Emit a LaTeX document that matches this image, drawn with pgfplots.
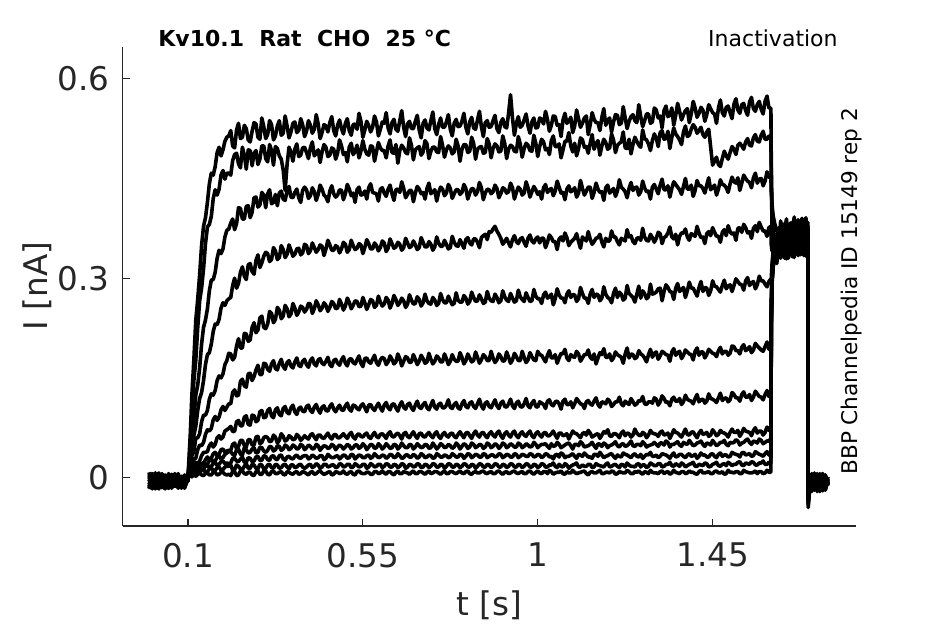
\documentclass[border=0pt]{standalone}
\usepackage{fontspec}
\setmainfont{DejaVu Sans}
\usepackage{pgfplots}
\usepackage{pgfplotstable}
\pgfplotsset{compat=1.18}
\definecolor{axgray}{HTML}{262626}
\pgfplotstableread{
t a b c d e f g h i j k l
0.000 0.004 -0.014 0.007 -0.016 -0.003 0.008 -0.010 -0.017 0.002 -0.006 -0.013 0.000
0.008 -0.015 0.005 -0.008 0.001 -0.017 -0.010 0.006 -0.004 -0.016 0.004 -0.002 -0.013
0.016 0.006 -0.009 -0.016 -0.003 0.007 -0.014 0.000 0.003 -0.010 -0.017 -0.004 0.007
0.025 -0.010 -0.017 -0.001 0.007 -0.013 0.000 -0.016 -0.008 0.005 -0.004 -0.013 -0.016
0.033 -0.003 0.001 -0.013 -0.015 0.004 -0.008 -0.003 0.006 -0.015 -0.001 0.005 -0.008
0.041 -0.016 -0.010 0.004 -0.001 -0.008 -0.017 -0.001 -0.013 0.000 -0.013 -0.008 -0.001
0.050 0.005 -0.003 -0.015 -0.010 -0.016 0.006 -0.013 -0.001 -0.008 0.004 -0.016 -0.010
0.058 -0.008 -0.016 -0.003 0.005 -0.001 -0.003 0.004 -0.015 -0.013 -0.010 0.001 -0.015
0.066 -0.013 0.004 -0.010 -0.013 -0.010 -0.013 -0.008 0.001 0.006 -0.003 -0.010 0.004
0.075 0.001 -0.013 -0.001 -0.008 0.006 -0.001 -0.015 -0.010 -0.003 -0.016 -0.001 -0.003
0.083 -0.010 -0.003 -0.016 0.002 -0.013 -0.010 0.001 -0.003 -0.015 0.001 -0.013 -0.013
0.091 -0.001 -0.015 0.001 -0.010 -0.003 0.001 -0.010 -0.016 -0.001 -0.008 0.004 -0.001
0.100 -0.004 -0.002 -0.004 -0.003 -0.005 -0.004 -0.003 -0.002 -0.004 -0.003 -0.004 -0.004
0.101 0.012 0.010 0.009 0.008 0.007 0.007 0.006 0.006 0.005 0.005 0.004 0.003
0.103 0.034 0.018 0.017 0.010 0.012 0.006 0.009 0.004 0.008 0.003 0.006 0.001
0.106 0.066 0.054 0.031 0.028 0.016 0.015 0.007 0.010 0.005 0.008 0.003 0.005
0.110 0.124 0.086 0.064 0.037 0.033 0.015 0.014 0.008 0.011 0.006 0.008 0.001
0.115 0.176 0.145 0.087 0.063 0.039 0.028 0.013 0.015 0.008 0.011 0.005 0.006
0.120 0.236 0.176 0.124 0.077 0.059 0.029 0.023 0.012 0.014 0.008 0.010 0.002
0.125 0.268 0.225 0.139 0.101 0.060 0.042 0.021 0.019 0.011 0.012 0.008 0.005
0.130 0.305 0.266 0.165 0.119 0.066 0.049 0.025 0.022 0.013 0.015 0.007 0.007
0.135 0.349 0.285 0.201 0.128 0.084 0.048 0.033 0.018 0.019 0.012 0.011 0.004
0.140 0.378 0.314 0.226 0.146 0.094 0.053 0.038 0.021 0.023 0.013 0.012 0.003
0.145 0.391 0.352 0.237 0.170 0.094 0.065 0.038 0.027 0.018 0.017 0.008 0.006
0.150 0.414 0.377 0.254 0.185 0.101 0.072 0.039 0.031 0.020 0.019 0.009 0.007
0.155 0.442 0.381 0.281 0.188 0.118 0.070 0.048 0.028 0.026 0.015 0.013 0.004
0.160 0.458 0.393 0.297 0.201 0.126 0.074 0.052 0.029 0.028 0.017 0.015 0.004
0.165 0.455 0.420 0.298 0.220 0.124 0.087 0.046 0.036 0.023 0.021 0.010 0.008
0.170 0.468 0.433 0.309 0.231 0.131 0.092 0.050 0.038 0.025 0.023 0.011 0.008
0.175 0.489 0.425 0.330 0.230 0.146 0.086 0.060 0.033 0.031 0.018 0.015 0.004
0.180 0.497 0.434 0.342 0.238 0.153 0.091 0.063 0.035 0.033 0.020 0.016 0.005
0.185 0.484 0.455 0.337 0.255 0.150 0.102 0.058 0.042 0.028 0.024 0.011 0.008
0.190 0.493 0.462 0.344 0.263 0.156 0.107 0.061 0.043 0.030 0.025 0.012 0.008
0.195 0.506 0.449 0.362 0.259 0.170 0.101 0.070 0.038 0.035 0.021 0.016 0.005
0.200 0.512 0.458 0.372 0.266 0.176 0.106 0.072 0.040 0.037 0.022 0.017 0.004
0.205 0.514 0.458 0.374 0.269 0.187 0.111 0.074 0.041 0.039 0.021 0.017 0.005
0.21 0.522 0.455 0.383 0.271 0.186 0.111 0.077 0.041 0.039 0.022 0.019 0.003
0.215 0.499 0.477 0.389 0.289 0.177 0.128 0.069 0.050 0.035 0.029 0.011 0.009
0.22 0.496 0.486 0.373 0.300 0.181 0.132 0.070 0.052 0.033 0.029 0.012 0.009
0.225 0.523 0.488 0.382 0.285 0.198 0.123 0.084 0.043 0.042 0.025 0.019 0.003
0.23 0.533 0.472 0.406 0.292 0.209 0.124 0.086 0.047 0.043 0.024 0.017 0.004
0.235 0.510 0.466 0.405 0.309 0.195 0.145 0.078 0.056 0.035 0.028 0.013 0.010
0.24 0.512 0.497 0.389 0.317 0.195 0.148 0.078 0.056 0.034 0.031 0.012 0.010
0.245 0.530 0.485 0.389 0.303 0.217 0.138 0.091 0.048 0.045 0.023 0.017 0.006
0.25 0.525 0.464 0.408 0.298 0.216 0.136 0.093 0.046 0.042 0.023 0.021 0.005
0.255 0.508 0.493 0.409 0.320 0.205 0.156 0.080 0.057 0.037 0.030 0.014 0.008
0.26 0.505 0.492 0.391 0.322 0.207 0.157 0.079 0.057 0.038 0.029 0.014 0.008
0.265 0.521 0.469 0.399 0.310 0.226 0.146 0.094 0.049 0.043 0.024 0.020 0.004
0.27 0.534 0.488 0.421 0.306 0.233 0.152 0.093 0.049 0.045 0.025 0.019 0.003
0.275 0.532 0.492 0.422 0.327 0.218 0.162 0.084 0.061 0.037 0.031 0.014 0.009
0.28 0.512 0.471 0.407 0.335 0.222 0.169 0.086 0.062 0.038 0.032 0.013 0.010
0.285 0.509 0.479 0.410 0.316 0.240 0.155 0.099 0.051 0.046 0.026 0.020 0.005
0.29 0.541 0.499 0.429 0.323 0.243 0.155 0.101 0.053 0.045 0.026 0.019 0.005
0.295 0.528 0.499 0.425 0.333 0.226 0.172 0.090 0.060 0.040 0.033 0.013 0.010
0.30 0.510 0.480 0.406 0.339 0.224 0.171 0.091 0.062 0.038 0.032 0.014 0.010
0.305 0.516 0.475 0.427 0.337 0.231 0.163 0.101 0.060 0.041 0.027 0.019 0.005
0.31 0.537 0.501 0.433 0.325 0.250 0.160 0.104 0.054 0.047 0.026 0.020 0.004
0.315 0.531 0.492 0.412 0.328 0.247 0.171 0.093 0.055 0.046 0.032 0.015 0.009
0.32 0.508 0.470 0.414 0.346 0.233 0.176 0.090 0.064 0.040 0.033 0.014 0.010
0.325 0.514 0.498 0.426 0.341 0.238 0.164 0.102 0.061 0.042 0.028 0.020 0.006
0.33 0.529 0.495 0.409 0.328 0.256 0.162 0.105 0.052 0.048 0.027 0.019 0.006
0.335 0.537 0.484 0.428 0.331 0.252 0.172 0.095 0.056 0.047 0.033 0.014 0.008
0.34 0.515 0.479 0.431 0.349 0.239 0.178 0.093 0.066 0.041 0.034 0.015 0.009
0.345 0.518 0.463 0.419 0.343 0.243 0.167 0.104 0.062 0.043 0.028 0.019 0.005
0.35 0.544 0.432 0.417 0.331 0.259 0.163 0.107 0.055 0.049 0.026 0.020 0.004
0.355 0.529 0.471 0.431 0.336 0.254 0.173 0.098 0.057 0.047 0.031 0.016 0.009
0.36 0.511 0.497 0.438 0.350 0.242 0.176 0.096 0.063 0.042 0.032 0.013 0.008
0.365 0.520 0.490 0.422 0.342 0.246 0.168 0.105 0.061 0.044 0.029 0.019 0.006
0.37 0.533 0.476 0.421 0.333 0.262 0.165 0.109 0.057 0.049 0.028 0.019 0.005
0.375 0.535 0.494 0.429 0.336 0.255 0.174 0.099 0.058 0.047 0.032 0.015 0.008
0.38 0.519 0.502 0.434 0.344 0.244 0.180 0.095 0.065 0.043 0.034 0.016 0.009
0.385 0.522 0.483 0.421 0.345 0.249 0.169 0.104 0.062 0.044 0.030 0.019 0.005
0.39 0.540 0.485 0.414 0.335 0.258 0.167 0.106 0.056 0.050 0.029 0.020 0.006
0.395 0.531 0.496 0.432 0.338 0.256 0.175 0.100 0.059 0.048 0.032 0.016 0.009
0.40 0.513 0.497 0.437 0.351 0.249 0.178 0.099 0.063 0.042 0.033 0.014 0.008
0.405 0.521 0.489 0.433 0.349 0.253 0.170 0.107 0.060 0.045 0.033 0.016 0.006
0.41 0.537 0.480 0.420 0.337 0.262 0.166 0.109 0.058 0.049 0.028 0.019 0.004
0.415 0.530 0.496 0.424 0.341 0.261 0.176 0.101 0.064 0.047 0.030 0.020 0.008
0.42 0.518 0.505 0.436 0.353 0.247 0.180 0.098 0.066 0.043 0.034 0.015 0.009
0.425 0.524 0.484 0.430 0.346 0.254 0.171 0.106 0.061 0.044 0.032 0.017 0.005
0.43 0.546 0.488 0.417 0.339 0.266 0.168 0.110 0.057 0.050 0.029 0.021 0.006
0.435 0.532 0.493 0.426 0.343 0.260 0.177 0.102 0.064 0.048 0.030 0.019 0.009
0.44 0.510 0.474 0.440 0.350 0.251 0.179 0.097 0.064 0.041 0.033 0.014 0.010
0.445 0.519 0.490 0.434 0.348 0.255 0.172 0.106 0.060 0.045 0.033 0.016 0.007
0.45 0.531 0.501 0.425 0.334 0.263 0.170 0.108 0.059 0.048 0.027 0.020 0.005
0.455 0.529 0.497 0.422 0.344 0.259 0.175 0.101 0.063 0.047 0.029 0.020 0.006
0.46 0.520 0.483 0.415 0.357 0.250 0.181 0.100 0.067 0.044 0.035 0.016 0.008
0.465 0.534 0.485 0.431 0.350 0.256 0.170 0.107 0.061 0.045 0.032 0.017 0.009
0.47 0.543 0.496 0.439 0.342 0.265 0.167 0.111 0.058 0.050 0.030 0.019 0.004
0.475 0.522 0.494 0.427 0.342 0.262 0.176 0.103 0.064 0.048 0.030 0.019 0.005
0.48 0.514 0.479 0.422 0.349 0.254 0.178 0.099 0.065 0.042 0.032 0.015 0.009
0.485 0.530 0.488 0.425 0.347 0.255 0.172 0.105 0.060 0.046 0.033 0.016 0.008
0.49 0.538 0.508 0.433 0.338 0.268 0.169 0.109 0.060 0.049 0.028 0.021 0.006
0.495 0.525 0.499 0.432 0.344 0.261 0.177 0.102 0.063 0.047 0.031 0.020 0.007
0.50 0.517 0.486 0.418 0.354 0.252 0.182 0.101 0.066 0.043 0.034 0.016 0.010
0.505 0.533 0.489 0.427 0.351 0.258 0.172 0.108 0.062 0.046 0.033 0.017 0.006
0.51 0.540 0.475 0.441 0.339 0.270 0.168 0.112 0.059 0.050 0.029 0.020 0.005
0.515 0.522 0.497 0.434 0.343 0.264 0.178 0.103 0.065 0.048 0.030 0.020 0.008
0.52 0.515 0.503 0.424 0.357 0.254 0.179 0.100 0.068 0.043 0.035 0.015 0.009
0.525 0.531 0.486 0.428 0.349 0.259 0.173 0.109 0.061 0.045 0.034 0.016 0.005
0.53 0.532 0.490 0.414 0.343 0.266 0.171 0.108 0.058 0.049 0.028 0.021 0.004
0.535 0.524 0.500 0.433 0.345 0.265 0.177 0.104 0.064 0.049 0.031 0.019 0.009
0.54 0.548 0.481 0.437 0.352 0.257 0.183 0.102 0.066 0.044 0.034 0.016 0.010
0.545 0.536 0.491 0.425 0.350 0.258 0.172 0.108 0.062 0.046 0.033 0.017 0.007
0.55 0.512 0.507 0.426 0.337 0.271 0.167 0.111 0.061 0.051 0.030 0.020 0.006
0.555 0.523 0.494 0.431 0.346 0.263 0.179 0.105 0.065 0.048 0.030 0.020 0.006
0.56 0.536 0.487 0.419 0.358 0.253 0.180 0.099 0.067 0.042 0.033 0.014 0.008
0.565 0.530 0.485 0.436 0.352 0.260 0.174 0.109 0.061 0.046 0.034 0.016 0.008
0.57 0.520 0.499 0.442 0.344 0.268 0.172 0.110 0.059 0.050 0.029 0.021 0.005
0.575 0.527 0.498 0.429 0.344 0.266 0.178 0.104 0.064 0.049 0.031 0.019 0.005
0.58 0.544 0.476 0.428 0.353 0.256 0.184 0.101 0.068 0.044 0.036 0.016 0.009
0.585 0.535 0.490 0.427 0.349 0.259 0.173 0.107 0.062 0.045 0.033 0.017 0.009
0.59 0.514 0.504 0.416 0.341 0.273 0.169 0.112 0.060 0.051 0.030 0.020 0.006
0.595 0.524 0.496 0.434 0.346 0.264 0.177 0.105 0.065 0.048 0.031 0.020 0.007
0.60 0.535 0.492 0.436 0.356 0.258 0.181 0.100 0.066 0.043 0.034 0.015 0.010
0.605 0.533 0.492 0.428 0.353 0.261 0.179 0.109 0.063 0.046 0.033 0.017 0.007
0.61 0.549 0.481 0.423 0.340 0.271 0.170 0.113 0.059 0.051 0.029 0.021 0.005
0.615 0.526 0.499 0.434 0.345 0.267 0.174 0.105 0.066 0.048 0.031 0.020 0.009
0.62 0.517 0.508 0.440 0.359 0.255 0.183 0.102 0.069 0.044 0.035 0.016 0.009
0.625 0.534 0.489 0.427 0.352 0.262 0.178 0.110 0.062 0.045 0.034 0.016 0.006
0.63 0.539 0.488 0.417 0.345 0.274 0.171 0.111 0.061 0.050 0.030 0.020 0.004
0.635 0.524 0.501 0.433 0.347 0.268 0.174 0.105 0.065 0.049 0.031 0.019 0.008
0.64 0.521 0.473 0.434 0.354 0.259 0.186 0.100 0.067 0.043 0.036 0.015 0.010
0.645 0.537 0.492 0.429 0.351 0.263 0.179 0.109 0.063 0.046 0.033 0.017 0.006
0.65 0.552 0.500 0.445 0.342 0.270 0.168 0.114 0.058 0.052 0.029 0.021 0.006
0.655 0.527 0.496 0.435 0.346 0.266 0.175 0.106 0.066 0.048 0.030 0.020 0.009
0.66 0.513 0.489 0.421 0.360 0.256 0.182 0.103 0.068 0.045 0.034 0.014 0.008
0.665 0.532 0.487 0.426 0.353 0.261 0.180 0.110 0.062 0.045 0.034 0.016 0.007
0.67 0.536 0.511 0.432 0.346 0.275 0.173 0.112 0.060 0.050 0.031 0.020 0.005
0.675 0.525 0.500 0.432 0.348 0.267 0.174 0.105 0.065 0.049 0.031 0.019 0.008
0.68 0.525 0.478 0.415 0.356 0.261 0.185 0.101 0.069 0.043 0.035 0.016 0.010
0.685 0.536 0.493 0.428 0.350 0.262 0.178 0.109 0.063 0.046 0.033 0.017 0.006
0.69 0.545 0.496 0.438 0.343 0.272 0.170 0.115 0.059 0.051 0.029 0.021 0.006
0.695 0.523 0.498 0.434 0.346 0.268 0.175 0.106 0.066 0.048 0.031 0.020 0.009
0.70 0.511 0.485 0.427 0.361 0.258 0.184 0.104 0.067 0.045 0.036 0.015 0.009
0.705 0.533 0.490 0.429 0.354 0.263 0.179 0.110 0.062 0.046 0.034 0.016 0.007
0.71 0.538 0.507 0.419 0.347 0.276 0.172 0.113 0.061 0.050 0.030 0.020 0.005
0.715 0.526 0.502 0.435 0.347 0.266 0.174 0.105 0.065 0.049 0.031 0.019 0.008
0.72 0.523 0.480 0.443 0.355 0.262 0.187 0.102 0.068 0.044 0.034 0.015 0.010
0.725 0.537 0.491 0.427 0.351 0.261 0.178 0.109 0.063 0.045 0.033 0.017 0.006
0.73 0.550 0.497 0.430 0.342 0.271 0.171 0.116 0.060 0.052 0.029 0.021 0.007
0.735 0.525 0.497 0.433 0.347 0.267 0.175 0.106 0.066 0.048 0.030 0.020 0.009
0.74 0.516 0.490 0.416 0.362 0.259 0.183 0.103 0.069 0.043 0.036 0.016 0.009
0.745 0.531 0.489 0.429 0.353 0.262 0.180 0.110 0.062 0.046 0.034 0.016 0.007
0.75 0.541 0.513 0.437 0.348 0.277 0.174 0.112 0.059 0.051 0.031 0.020 0.005
0.755 0.527 0.500 0.434 0.348 0.268 0.174 0.105 0.065 0.049 0.031 0.019 0.008
0.76 0.527 0.482 0.424 0.357 0.263 0.186 0.105 0.068 0.045 0.034 0.014 0.010
0.765 0.535 0.493 0.428 0.351 0.263 0.179 0.109 0.063 0.046 0.033 0.017 0.006
0.77 0.546 0.499 0.441 0.344 0.273 0.170 0.117 0.061 0.050 0.030 0.021 0.006
0.775 0.524 0.496 0.435 0.346 0.266 0.175 0.106 0.066 0.048 0.031 0.020 0.009
0.78 0.514 0.487 0.420 0.363 0.260 0.185 0.104 0.067 0.044 0.036 0.016 0.009
0.785 0.533 0.490 0.427 0.354 0.262 0.178 0.110 0.062 0.046 0.034 0.016 0.007
0.79 0.539 0.509 0.433 0.349 0.278 0.175 0.113 0.060 0.052 0.031 0.020 0.006
0.795 0.528 0.499 0.433 0.348 0.267 0.175 0.105 0.065 0.049 0.031 0.019 0.008
0.80 0.529 0.476 0.426 0.358 0.264 0.188 0.103 0.069 0.043 0.035 0.015 0.010
0.805 0.536 0.494 0.429 0.352 0.264 0.181 0.111 0.064 0.047 0.034 0.017 0.007
0.81 0.548 0.501 0.441 0.345 0.274 0.171 0.116 0.060 0.051 0.029 0.021 0.006
0.815 0.527 0.501 0.435 0.358 0.270 0.176 0.107 0.067 0.049 0.032 0.020 0.009
0.82 0.517 0.489 0.419 0.361 0.261 0.186 0.105 0.068 0.044 0.036 0.016 0.010
0.825 0.535 0.491 0.428 0.353 0.265 0.180 0.112 0.063 0.046 0.035 0.016 0.006
0.83 0.542 0.512 0.435 0.350 0.279 0.174 0.114 0.059 0.052 0.030 0.020 0.005
0.835 0.526 0.503 0.434 0.359 0.271 0.176 0.107 0.066 0.050 0.032 0.019 0.008
0.84 0.524 0.479 0.425 0.359 0.265 0.189 0.104 0.070 0.045 0.035 0.014 0.009
0.845 0.538 0.494 0.430 0.354 0.266 0.181 0.111 0.064 0.047 0.034 0.017 0.007
0.85 0.551 0.497 0.444 0.346 0.275 0.172 0.118 0.061 0.050 0.031 0.021 0.007
0.855 0.528 0.498 0.436 0.361 0.269 0.177 0.108 0.067 0.049 0.031 0.020 0.009
0.86 0.513 0.488 0.418 0.364 0.262 0.185 0.103 0.068 0.044 0.036 0.016 0.010
0.865 0.534 0.489 0.428 0.366 0.264 0.182 0.112 0.063 0.046 0.035 0.016 0.007
0.87 0.537 0.510 0.434 0.358 0.280 0.176 0.114 0.060 0.052 0.030 0.020 0.006
0.875 0.527 0.502 0.433 0.370 0.270 0.176 0.107 0.066 0.050 0.032 0.019 0.008
0.88 0.528 0.481 0.427 0.369 0.266 0.190 0.105 0.069 0.045 0.034 0.015 0.009
0.885 0.537 0.495 0.430 0.374 0.265 0.180 0.111 0.064 0.047 0.034 0.017 0.006
0.89 0.545 0.502 0.440 0.378 0.276 0.173 0.117 0.061 0.051 0.031 0.021 0.006
0.895 0.525 0.499 0.435 0.371 0.271 0.177 0.108 0.067 0.049 0.032 0.020 0.009
0.90 0.519 0.490 0.421 0.366 0.263 0.186 0.104 0.070 0.044 0.036 0.016 0.010
0.905 0.534 0.491 0.427 0.360 0.266 0.182 0.112 0.063 0.047 0.035 0.016 0.007
0.91 0.540 0.514 0.436 0.351 0.281 0.175 0.115 0.059 0.052 0.030 0.020 0.005
0.915 0.528 0.503 0.434 0.355 0.272 0.176 0.107 0.066 0.050 0.032 0.019 0.008
0.92 0.526 0.480 0.428 0.360 0.267 0.189 0.106 0.069 0.045 0.035 0.015 0.009
0.925 0.548 0.494 0.430 0.353 0.265 0.181 0.111 0.064 0.047 0.034 0.017 0.006
0.93 0.576 0.500 0.443 0.347 0.277 0.172 0.118 0.061 0.051 0.031 0.021 0.007
0.935 0.541 0.498 0.436 0.358 0.270 0.177 0.108 0.067 0.049 0.031 0.020 0.009
0.94 0.515 0.491 0.419 0.364 0.264 0.187 0.104 0.070 0.046 0.036 0.016 0.010
0.945 0.533 0.490 0.429 0.355 0.266 0.182 0.112 0.063 0.046 0.035 0.016 0.007
0.95 0.543 0.513 0.437 0.352 0.282 0.176 0.115 0.060 0.052 0.030 0.020 0.006
0.955 0.527 0.502 0.434 0.359 0.272 0.176 0.107 0.066 0.050 0.032 0.019 0.008
0.96 0.530 0.482 0.425 0.361 0.268 0.190 0.106 0.069 0.045 0.035 0.015 0.009
0.965 0.538 0.495 0.428 0.354 0.265 0.181 0.111 0.064 0.047 0.034 0.017 0.006
0.97 0.547 0.503 0.445 0.348 0.278 0.173 0.119 0.062 0.051 0.032 0.021 0.006
0.975 0.529 0.500 0.436 0.360 0.271 0.177 0.108 0.067 0.049 0.032 0.020 0.009
0.98 0.518 0.492 0.422 0.365 0.265 0.188 0.105 0.070 0.046 0.036 0.016 0.010
0.985 0.535 0.491 0.430 0.356 0.266 0.182 0.112 0.063 0.047 0.035 0.016 0.007
0.99 0.541 0.515 0.438 0.353 0.283 0.177 0.116 0.060 0.053 0.031 0.020 0.005
0.995 0.526 0.503 0.433 0.359 0.273 0.176 0.107 0.066 0.050 0.032 0.019 0.008
1.00 0.527 0.483 0.426 0.362 0.269 0.190 0.106 0.069 0.045 0.035 0.015 0.010
1.005 0.541 0.498 0.430 0.353 0.269 0.185 0.114 0.064 0.048 0.034 0.017 0.007
1.01 0.539 0.509 0.419 0.360 0.262 0.184 0.112 0.061 0.050 0.030 0.021 0.006
1.015 0.532 0.505 0.436 0.360 0.275 0.179 0.110 0.067 0.050 0.032 0.020 0.009
1.02 0.551 0.493 0.441 0.346 0.279 0.174 0.104 0.068 0.051 0.036 0.016 0.009
1.025 0.539 0.495 0.429 0.354 0.270 0.184 0.115 0.063 0.047 0.035 0.016 0.006
1.03 0.521 0.486 0.433 0.365 0.272 0.191 0.117 0.063 0.044 0.031 0.019 0.011
1.035 0.530 0.507 0.435 0.361 0.276 0.180 0.110 0.066 0.051 0.032 0.019 0.009
1.04 0.544 0.514 0.424 0.355 0.260 0.180 0.108 0.070 0.047 0.028 0.022 0.005
1.045 0.543 0.498 0.431 0.355 0.269 0.185 0.114 0.064 0.048 0.034 0.017 0.007
1.05 0.530 0.498 0.446 0.343 0.284 0.172 0.115 0.059 0.053 0.035 0.015 0.008
1.055 0.531 0.502 0.437 0.359 0.275 0.180 0.111 0.067 0.050 0.031 0.020 0.008
1.06 0.513 0.481 0.428 0.362 0.270 0.187 0.103 0.067 0.045 0.037 0.017 0.010
1.065 0.538 0.493 0.429 0.356 0.270 0.186 0.115 0.063 0.047 0.035 0.016 0.006
1.07 0.548 0.506 0.418 0.368 0.263 0.193 0.118 0.064 0.049 0.030 0.021 0.005
1.075 0.533 0.506 0.434 0.361 0.276 0.180 0.110 0.066 0.051 0.032 0.019 0.009
1.08 0.536 0.519 0.439 0.349 0.281 0.176 0.110 0.058 0.052 0.032 0.014 0.007
1.085 0.542 0.499 0.430 0.354 0.271 0.185 0.114 0.064 0.048 0.034 0.017 0.007
1.09 0.519 0.490 0.432 0.357 0.275 0.182 0.105 0.070 0.043 0.036 0.019 0.011
1.095 0.529 0.503 0.436 0.360 0.275 0.181 0.111 0.067 0.050 0.032 0.020 0.008
1.10 0.553 0.484 0.422 0.367 0.265 0.190 0.119 0.066 0.050 0.029 0.022 0.006
1.105 0.540 0.495 0.428 0.355 0.269 0.186 0.115 0.063 0.048 0.035 0.016 0.007
1.11 0.527 0.511 0.447 0.345 0.286 0.175 0.111 0.060 0.054 0.034 0.016 0.008
1.115 0.533 0.508 0.435 0.362 0.277 0.180 0.110 0.066 0.051 0.032 0.019 0.009
1.12 0.541 0.497 0.425 0.359 0.270 0.185 0.104 0.068 0.046 0.037 0.017 0.010
1.125 0.544 0.498 0.431 0.356 0.270 0.185 0.114 0.064 0.047 0.034 0.017 0.006
1.13 0.516 0.488 0.437 0.370 0.262 0.192 0.116 0.071 0.048 0.031 0.020 0.004
1.135 0.531 0.503 0.437 0.359 0.276 0.181 0.111 0.067 0.050 0.031 0.020 0.008
1.14 0.549 0.516 0.420 0.351 0.283 0.178 0.109 0.061 0.053 0.029 0.015 0.009
1.145 0.539 0.494 0.429 0.355 0.271 0.186 0.115 0.063 0.048 0.035 0.016 0.007
1.15 0.534 0.502 0.443 0.360 0.276 0.171 0.120 0.065 0.044 0.035 0.021 0.007
1.155 0.534 0.507 0.434 0.361 0.275 0.180 0.110 0.066 0.051 0.032 0.019 0.009
1.16 0.522 0.485 0.429 0.366 0.266 0.188 0.106 0.059 0.050 0.038 0.018 0.011
1.165 0.542 0.499 0.430 0.354 0.270 0.185 0.114 0.064 0.047 0.034 0.017 0.006
1.17 0.555 0.509 0.417 0.347 0.287 0.194 0.113 0.069 0.052 0.030 0.016 0.006
1.175 0.530 0.504 0.436 0.360 0.276 0.181 0.111 0.067 0.050 0.032 0.020 0.008
1.18 0.538 0.494 0.440 0.356 0.271 0.181 0.118 0.072 0.045 0.033 0.022 0.008
1.185 0.541 0.496 0.428 0.356 0.269 0.186 0.115 0.063 0.048 0.035 0.016 0.007
1.19 0.520 0.517 0.431 0.371 0.263 0.176 0.107 0.062 0.049 0.036 0.017 0.010
1.195 0.535 0.508 0.435 0.362 0.277 0.180 0.110 0.066 0.051 0.032 0.019 0.009
1.20 0.546 0.489 0.423 0.362 0.285 0.189 0.114 0.066 0.054 0.029 0.020 0.005
1.205 0.545 0.500 0.431 0.355 0.271 0.185 0.114 0.064 0.048 0.034 0.017 0.006
1.21 0.531 0.503 0.448 0.350 0.279 0.183 0.121 0.060 0.046 0.032 0.015 0.009
1.215 0.533 0.505 0.437 0.360 0.276 0.181 0.111 0.067 0.050 0.031 0.020 0.008
1.22 0.558 0.520 0.434 0.358 0.267 0.172 0.108 0.070 0.051 0.037 0.019 0.007
1.225 0.541 0.496 0.430 0.356 0.270 0.186 0.115 0.063 0.047 0.035 0.016 0.007
1.23 0.525 0.495 0.421 0.373 0.289 0.195 0.112 0.067 0.048 0.034 0.022 0.011
1.235 0.536 0.509 0.435 0.362 0.277 0.180 0.110 0.066 0.051 0.032 0.019 0.009
1.24 0.543 0.487 0.444 0.364 0.274 0.186 0.119 0.061 0.055 0.030 0.017 0.006
1.245 0.546 0.501 0.432 0.355 0.271 0.185 0.114 0.064 0.048 0.034 0.017 0.006
1.25 0.537 0.512 0.436 0.352 0.264 0.179 0.109 0.073 0.047 0.036 0.016 0.009
1.255 0.534 0.506 0.437 0.360 0.276 0.181 0.111 0.067 0.050 0.032 0.020 0.008
1.26 0.561 0.500 0.425 0.361 0.288 0.191 0.116 0.064 0.050 0.031 0.021 0.010
1.265 0.543 0.497 0.430 0.357 0.270 0.186 0.115 0.063 0.048 0.035 0.016 0.007
1.27 0.528 0.523 0.446 0.375 0.281 0.184 0.122 0.068 0.054 0.029 0.019 0.005
1.275 0.537 0.510 0.436 0.362 0.277 0.180 0.111 0.066 0.051 0.032 0.019 0.009
1.28 0.547 0.508 0.430 0.357 0.269 0.174 0.110 0.060 0.046 0.035 0.015 0.008
1.285 0.547 0.502 0.431 0.356 0.272 0.185 0.114 0.064 0.048 0.034 0.017 0.006
1.29 0.533 0.492 0.419 0.366 0.291 0.193 0.114 0.071 0.049 0.038 0.022 0.011
1.295 0.535 0.507 0.437 0.361 0.276 0.181 0.112 0.067 0.050 0.032 0.020 0.008
1.30 0.556 0.517 0.441 0.354 0.277 0.187 0.120 0.066 0.053 0.032 0.018 0.007
1.305 0.553 0.511 0.434 0.360 0.279 0.189 0.118 0.065 0.050 0.034 0.018 0.007
1.31 0.541 0.498 0.427 0.369 0.284 0.178 0.109 0.062 0.047 0.030 0.021 0.006
1.315 0.544 0.519 0.440 0.367 0.285 0.183 0.114 0.068 0.052 0.032 0.021 0.009
1.32 0.526 0.522 0.449 0.352 0.266 0.190 0.123 0.070 0.052 0.036 0.016 0.010
1.325 0.552 0.509 0.433 0.361 0.280 0.188 0.119 0.064 0.049 0.035 0.017 0.006
1.33 0.559 0.510 0.433 0.363 0.290 0.185 0.113 0.065 0.055 0.034 0.020 0.008
1.335 0.543 0.521 0.439 0.368 0.286 0.184 0.114 0.067 0.053 0.032 0.020 0.009
1.34 0.545 0.495 0.422 0.377 0.280 0.175 0.108 0.059 0.046 0.029 0.023 0.005
1.345 0.556 0.512 0.435 0.362 0.279 0.189 0.118 0.065 0.050 0.034 0.018 0.007
1.35 0.530 0.526 0.445 0.359 0.268 0.194 0.121 0.072 0.050 0.037 0.017 0.011
1.355 0.545 0.517 0.441 0.366 0.285 0.184 0.115 0.068 0.052 0.031 0.021 0.008
1.36 0.563 0.513 0.437 0.350 0.292 0.188 0.115 0.067 0.054 0.032 0.019 0.007
1.365 0.551 0.508 0.433 0.363 0.280 0.190 0.119 0.064 0.049 0.035 0.017 0.006
1.37 0.538 0.501 0.426 0.368 0.283 0.179 0.110 0.061 0.047 0.035 0.022 0.009
1.375 0.546 0.520 0.438 0.368 0.286 0.184 0.114 0.067 0.053 0.032 0.020 0.009
1.38 0.552 0.529 0.450 0.374 0.271 0.192 0.124 0.073 0.051 0.030 0.016 0.006
1.385 0.555 0.513 0.434 0.362 0.281 0.189 0.118 0.065 0.050 0.034 0.018 0.007
1.39 0.534 0.515 0.434 0.357 0.294 0.186 0.116 0.064 0.056 0.036 0.020 0.010
1.395 0.547 0.524 0.440 0.367 0.285 0.185 0.115 0.068 0.052 0.032 0.021 0.008
1.40 0.566 0.531 0.423 0.365 0.285 0.177 0.111 0.069 0.048 0.033 0.023 0.008
1.405 0.556 0.527 0.432 0.363 0.279 0.190 0.119 0.064 0.049 0.035 0.017 0.006
1.41 0.542 0.518 0.447 0.378 0.273 0.195 0.125 0.060 0.052 0.029 0.017 0.005
1.415 0.548 0.522 0.439 0.368 0.286 0.184 0.114 0.067 0.053 0.032 0.020 0.009
1.42 0.557 0.527 0.439 0.361 0.295 0.189 0.117 0.071 0.055 0.037 0.019 0.011
1.425 0.553 0.516 0.435 0.362 0.280 0.189 0.118 0.065 0.050 0.034 0.018 0.007
1.43 0.536 0.512 0.428 0.352 0.286 0.180 0.112 0.066 0.047 0.034 0.022 0.007
1.435 0.546 0.520 0.440 0.367 0.285 0.185 0.115 0.068 0.052 0.031 0.021 0.008
1.44 0.561 0.524 0.451 0.370 0.274 0.193 0.126 0.062 0.051 0.031 0.016 0.009
1.445 0.555 0.497 0.433 0.364 0.281 0.190 0.119 0.064 0.049 0.035 0.017 0.006
1.45 0.549 0.470 0.436 0.376 0.296 0.187 0.118 0.072 0.056 0.036 0.020 0.006
1.455 0.547 0.476 0.440 0.369 0.288 0.186 0.116 0.068 0.052 0.032 0.021 0.009
1.46 0.533 0.482 0.425 0.363 0.287 0.182 0.113 0.063 0.048 0.030 0.023 0.010
1.465 0.556 0.471 0.434 0.363 0.283 0.191 0.120 0.065 0.050 0.035 0.018 0.007
1.47 0.568 0.468 0.448 0.354 0.279 0.196 0.127 0.071 0.053 0.037 0.017 0.007
1.475 0.549 0.480 0.441 0.369 0.289 0.186 0.116 0.068 0.053 0.032 0.020 0.009
1.48 0.544 0.491 0.440 0.373 0.297 0.190 0.119 0.067 0.056 0.034 0.021 0.005
1.485 0.557 0.484 0.436 0.364 0.284 0.190 0.120 0.065 0.050 0.034 0.018 0.006
1.49 0.559 0.479 0.429 0.379 0.288 0.184 0.114 0.061 0.048 0.031 0.023 0.011
1.495 0.549 0.489 0.442 0.370 0.290 0.187 0.117 0.068 0.053 0.032 0.021 0.008
1.50 0.540 0.498 0.452 0.366 0.280 0.198 0.128 0.073 0.052 0.038 0.018 0.008
1.505 0.562 0.494 0.445 0.368 0.289 0.197 0.125 0.068 0.053 0.036 0.020 0.007
1.51 0.570 0.486 0.443 0.357 0.299 0.191 0.120 0.068 0.057 0.035 0.020 0.009
1.515 0.553 0.500 0.451 0.375 0.295 0.191 0.120 0.071 0.055 0.034 0.023 0.009
1.52 0.548 0.503 0.432 0.376 0.291 0.186 0.115 0.062 0.049 0.031 0.024 0.006
1.525 0.561 0.499 0.443 0.369 0.290 0.196 0.125 0.067 0.052 0.037 0.019 0.006
1.53 0.563 0.494 0.455 0.381 0.282 0.200 0.129 0.074 0.053 0.038 0.018 0.011
1.535 0.552 0.505 0.450 0.376 0.296 0.191 0.121 0.070 0.056 0.034 0.022 0.009
1.54 0.545 0.510 0.446 0.368 0.301 0.193 0.121 0.069 0.058 0.035 0.021 0.008
1.545 0.565 0.500 0.444 0.370 0.289 0.197 0.125 0.068 0.053 0.036 0.020 0.007
1.55 0.572 0.499 0.436 0.360 0.293 0.188 0.116 0.063 0.050 0.032 0.024 0.007
1.555 0.555 0.511 0.451 0.375 0.295 0.192 0.121 0.071 0.055 0.033 0.023 0.008
1.56 0.551 0.516 0.458 0.379 0.284 0.202 0.130 0.075 0.054 0.039 0.019 0.010
1.565 0.561 0.506 0.443 0.370 0.290 0.198 0.126 0.067 0.052 0.037 0.019 0.006
1.57 0.566 0.505 0.449 0.384 0.303 0.195 0.122 0.070 0.058 0.035 0.022 0.009
1.575 0.554 0.515 0.450 0.377 0.296 0.192 0.121 0.070 0.056 0.034 0.022 0.009
1.58 0.547 0.521 0.439 0.371 0.296 0.190 0.117 0.064 0.051 0.032 0.025 0.006
1.585 0.566 0.509 0.446 0.371 0.291 0.197 0.125 0.068 0.053 0.036 0.020 0.007
1.59 0.574 0.509 0.460 0.363 0.287 0.204 0.131 0.076 0.055 0.039 0.020 0.011
1.595 0.556 0.514 0.452 0.376 0.295 0.193 0.122 0.071 0.055 0.034 0.023 0.008
1.60 0.556 0.513 0.451 0.378 0.299 0.197 0.123 0.071 0.059 0.036 0.022 0.008
1.601 0.470 0.450 0.430 0.350 0.300 0.270 0.250 0.240 0.235 0.230 0.225 0.220
1.603 0.392 0.378 0.410 0.341 0.322 0.315 0.309 0.305 0.300 0.298 0.296 0.293
1.606 0.371 0.362 0.393 0.355 0.343 0.338 0.332 0.328 0.326 0.322 0.320 0.318
1.61 0.361 0.349 0.382 0.366 0.330 0.352 0.341 0.325 0.347 0.338 0.334 0.329
1.615 0.348 0.367 0.371 0.340 0.357 0.329 0.350 0.362 0.335 0.351 0.322 0.346
1.62 0.376 0.338 0.369 0.348 0.362 0.335 0.358 0.351 0.331 0.366 0.344 0.355
1.625 0.359 0.352 0.340 0.372 0.333 0.386 0.341 0.330 0.360 0.344 0.375 0.332
1.63 0.342 0.371 0.355 0.381 0.340 0.369 0.333 0.362 0.374 0.339 0.360 0.346
1.635 0.370 0.336 0.382 0.349 0.365 0.330 0.371 0.347 0.341 0.379 0.338 0.360
1.64 0.389 0.352 0.378 0.337 0.371 0.348 0.385 0.336 0.350 0.368 0.329 0.372
1.645 0.343 0.376 0.350 0.361 0.335 0.362 0.339 0.377 0.369 0.330 0.366 0.349
1.65 0.355 0.383 0.341 0.369 0.352 0.378 0.346 0.373 0.337 0.352 0.381 0.340
1.655 0.384 0.347 0.368 0.332 0.379 0.343 0.380 0.335 0.362 0.374 0.334 0.377
1.66 0.368 0.335 0.392 0.354 0.384 0.339 0.367 0.348 0.389 0.331 0.357 0.363
1.665 0.347 0.361 0.345 0.379 0.337 0.383 0.338 0.371 0.340 0.360 0.372 0.337
1.67 0.334 0.374 0.359 0.388 0.345 0.371 0.352 0.382 0.346 0.377 0.338 0.386
1.675 0.366 0.341 0.377 0.344 0.369 0.335 0.376 0.343 0.381 0.336 0.365 0.350
1.68 0.381 0.357 0.336 0.349 0.376 0.356 0.390 0.339 0.368 0.354 0.373 0.344
1.685 0.339 0.380 0.361 0.370 0.341 0.378 0.348 0.366 0.334 0.372 0.340 0.381
1.69 0.350 0.387 0.372 0.333 0.358 0.391 0.344 0.370 0.351 0.385 0.349 0.365
1.695 0.372 0.346 0.355 0.377 0.339 0.354 0.379 0.356 0.384 0.342 0.366 0.352
1.696 -0.030 -0.045 -0.025 -0.035 -0.020 -0.040 -0.028 -0.033 -0.022 -0.038 -0.026 -0.031
1.699 -0.014 -0.022 -0.006 -0.018 -0.009 -0.020 -0.003 -0.015 -0.019 -0.007 -0.016 -0.011
1.705 0.004 -0.013 -0.019 0.002 -0.016 -0.008 -0.021 0.006 -0.011 -0.018 -0.002 -0.009
1.712 -0.015 0.005 -0.006 -0.018 0.003 -0.019 0.000 -0.013 0.007 -0.006 -0.016 0.001
1.719 0.006 -0.018 0.002 -0.008 -0.021 0.000 -0.015 0.003 -0.018 0.005 -0.010 -0.019
1.726 -0.019 -0.002 -0.013 0.006 -0.008 -0.016 0.004 -0.021 0.001 -0.015 0.002 -0.008
1.733 0.002 -0.016 0.005 -0.015 0.006 -0.006 -0.018 -0.002 -0.013 0.006 -0.020 0.003
1.740 -0.012 0.003 -0.018 -0.002 -0.015 0.004 -0.010 -0.016 0.002 -0.019 -0.001 -0.013
1.747 -0.005 -0.012 0.001 -0.010 -0.003 -0.009 -0.005 -0.007 -0.012 -0.002 -0.010 -0.005
}\traces

\begin{document}
\begin{tikzpicture}
\path[use as bounding box] (0,0) rectangle (472.5pt,312pt);
\begin{axis}[
  at={(61.35pt,49pt)}, anchor=south west,
  scale only axis, width=366.65pt, height=239.5pt,
  xmin=-0.068, xmax=1.819, ymin=-0.0728, ymax=0.6478,
  axis x line*=bottom, axis y line*=left,
  axis line style={-, axgray, line width=0.6pt},
  xtick={0.1,0.55,1,1.45}, xticklabels={0.1,0.55,1,1.45},
  ytick={0,0.3,0.6}, yticklabels={0,0.3,0.6},
  tick align=inside, major tick length=3.5pt,
  tick style={axgray, line width=0.6pt},
  tick label style={font=\fontsize{16.3}{19}\selectfont, text=axgray},
  xticklabel style={yshift=-5pt},
  yticklabel style={xshift=-3pt},
]
\addplot[black, line width=1.8pt, line join=round] table[x=t,y=a] {\traces};
\addplot[black, line width=1.8pt, line join=round] table[x=t,y=b] {\traces};
\addplot[black, line width=1.8pt, line join=round] table[x=t,y=c] {\traces};
\addplot[black, line width=1.8pt, line join=round] table[x=t,y=d] {\traces};
\addplot[black, line width=1.8pt, line join=round] table[x=t,y=e] {\traces};
\addplot[black, line width=1.8pt, line join=round] table[x=t,y=f] {\traces};
\addplot[black, line width=1.8pt, line join=round] table[x=t,y=g] {\traces};
\addplot[black, line width=1.8pt, line join=round] table[x=t,y=h] {\traces};
\addplot[black, line width=1.8pt, line join=round] table[x=t,y=i] {\traces};
\addplot[black, line width=1.8pt, line join=round] table[x=t,y=j] {\traces};
\addplot[black, line width=1.8pt, line join=round] table[x=t,y=k] {\traces};
\addplot[black, line width=1.8pt, line join=round] table[x=t,y=l] {\traces};
\end{axis}
\node[font=\fontsize{16.3}{19}\selectfont, text=axgray] at (244.5pt,9.5pt) {t [s]};
\node[font=\fontsize{16.3}{19}\selectfont, text=axgray, rotate=90] at (18.75pt,169pt) {I [nA]};
\node[font=\fontsize{11}{13}\selectfont\bfseries, anchor=base west, inner sep=0pt] at (79pt,288.5pt) {Kv10.1\ \ Rat\ \ CHO\ \ 25 °C};
\node[font=\fontsize{11}{13}\selectfont, anchor=base east, inner sep=0pt] at (419pt,288.5pt) {Inactivation};
\node[font=\fontsize{10.8}{13}\selectfont, rotate=90, anchor=base west, inner sep=0pt] at (428.5pt,74.5pt) {BBP Channelpedia ID 15149 rep 2};
\end{tikzpicture}
\end{document}
